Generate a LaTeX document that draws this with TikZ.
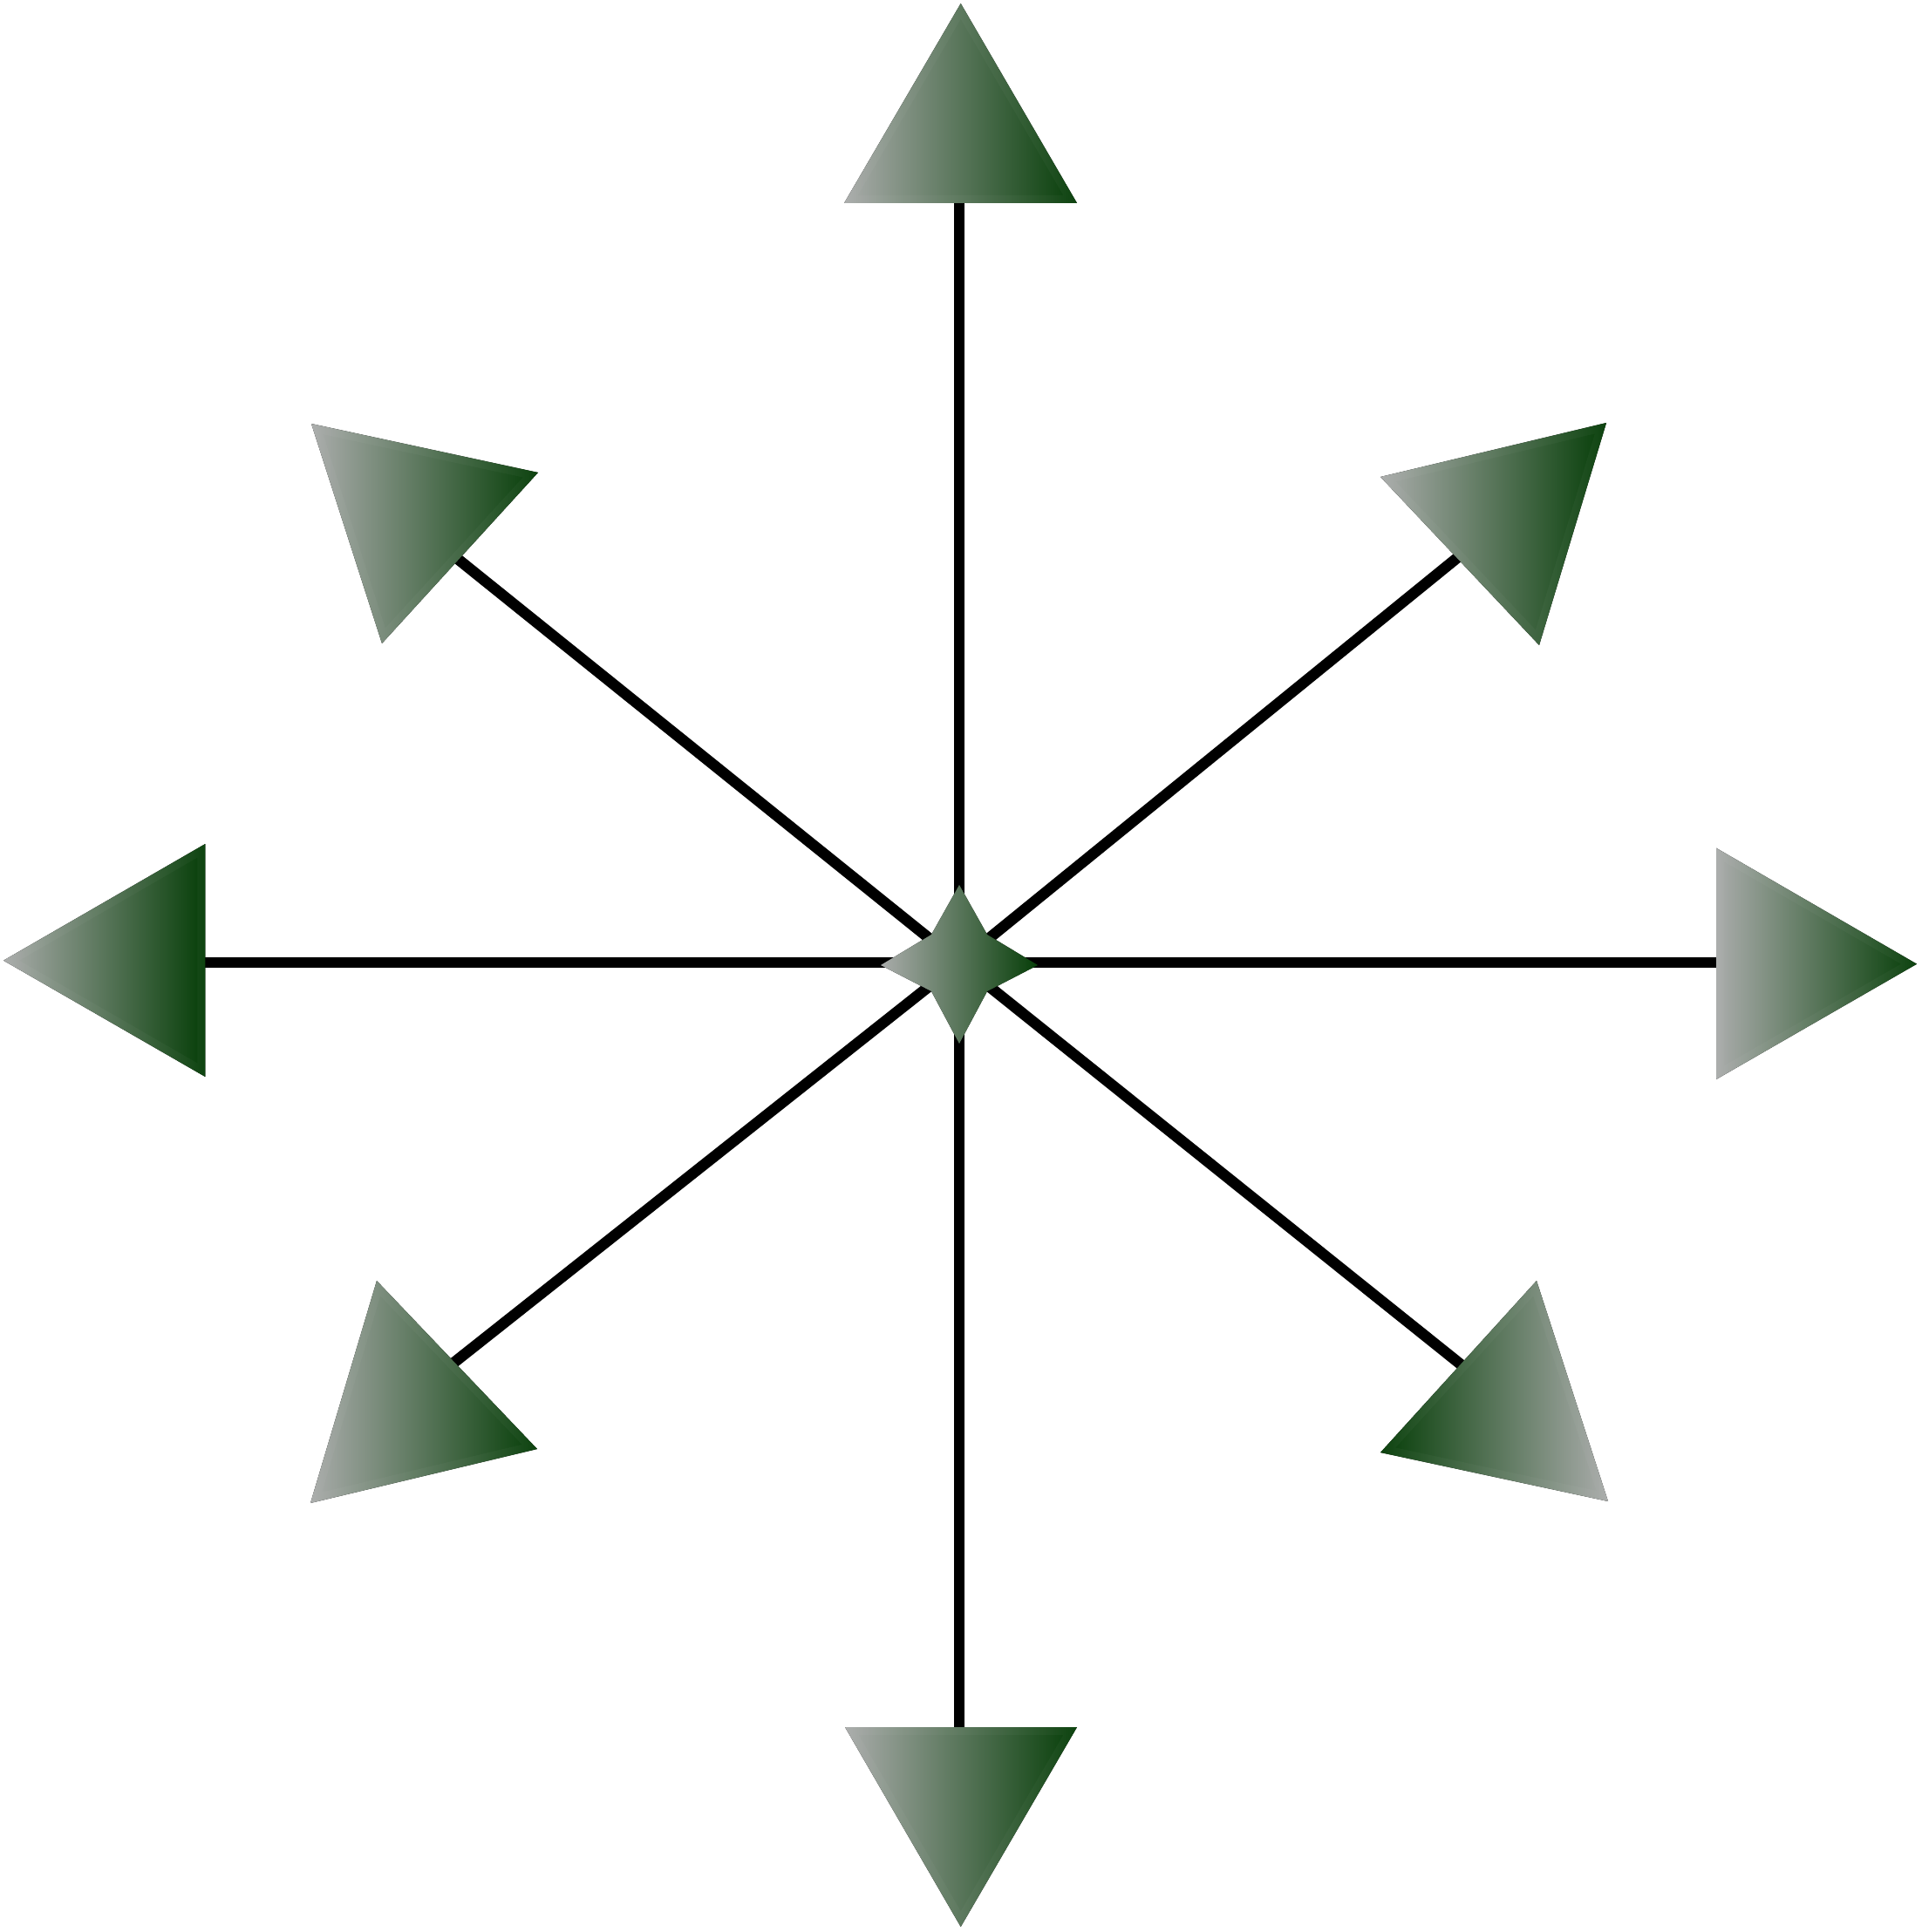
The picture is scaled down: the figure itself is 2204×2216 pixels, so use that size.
\documentclass[tikz,border=0pt]{standalone}
\definecolor{ggray}{RGB}{170,172,171}
\definecolor{ggreen}{RGB}{6,62,8}
\tikzset{
  spoke/.style={line width=0.125cm, draw=black},
  headfill/.style={left color=ggray, right color=ggreen},
  headfillrev/.style={left color=ggreen, right color=ggray},
  rim/.style={draw=white, draw opacity=0.03, line width=0.18cm, line join=round},
}
\newcommand\myhead[4]{%
  \fill[#1] #2 -- #3 -- #4 -- cycle;
  \begin{scope}
    \clip #2 -- #3 -- #4 -- cycle;
    \draw[rim] #2 -- #3 -- #4 -- cycle;
  \end{scope}}
\begin{document}
\begin{tikzpicture}[x=0.01cm,y=-0.01cm]
\useasboundingbox (0,0) rectangle (2204,2216);
\coordinate (C) at (1100,1104);
\coordinate (eN) at (1100,150);
\coordinate (eS) at (1100,2060);
\coordinate (eW) at (150,1104);
\coordinate (eE) at (2050,1104);
\coordinate (eNW) at (480,605);
\coordinate (eSE) at (1720,1601);
\coordinate (eNE) at (1720,600);
\coordinate (eSW) at (480,1595);
% spokes
\draw[spoke] (eN) -- (C) -- (eS);
\draw[spoke] (eW) -- (C) -- (eE);
\draw[spoke] (eNW) -- (C) -- (eSE);
\draw[spoke] (eNE) -- (C) -- (eSW);
% arrow heads
\myhead{headfill}{(1101.7,4)}{(1235,233)}{(968,233)}
\myhead{headfill}{(1101.7,2210)}{(969,1981)}{(1235,1981)}
\myhead{headfill}{(4,1101.7)}{(235.3,968)}{(235.3,1235)}
\myhead{headfill}{(2198,1105.7)}{(1968,972.7)}{(1968,1238)}
\myhead{headfill}{(357,486)}{(617,542)}{(438,738)}
\myhead{headfill}{(1842,485)}{(1583,547)}{(1765,740)}
\myhead{headfill}{(356,1724)}{(432,1469)}{(616,1662)}
\myhead{headfillrev}{(1844,1722)}{(1762,1469)}{(1583,1666)}
% centre star
\fill[headfill] (1100,1015) -- (1132,1072) -- (1190,1107) -- (1132,1137)
  -- (1100,1197) -- (1068,1137) -- (1010,1107) -- (1068,1072) -- cycle;
\end{tikzpicture}
\end{document}
